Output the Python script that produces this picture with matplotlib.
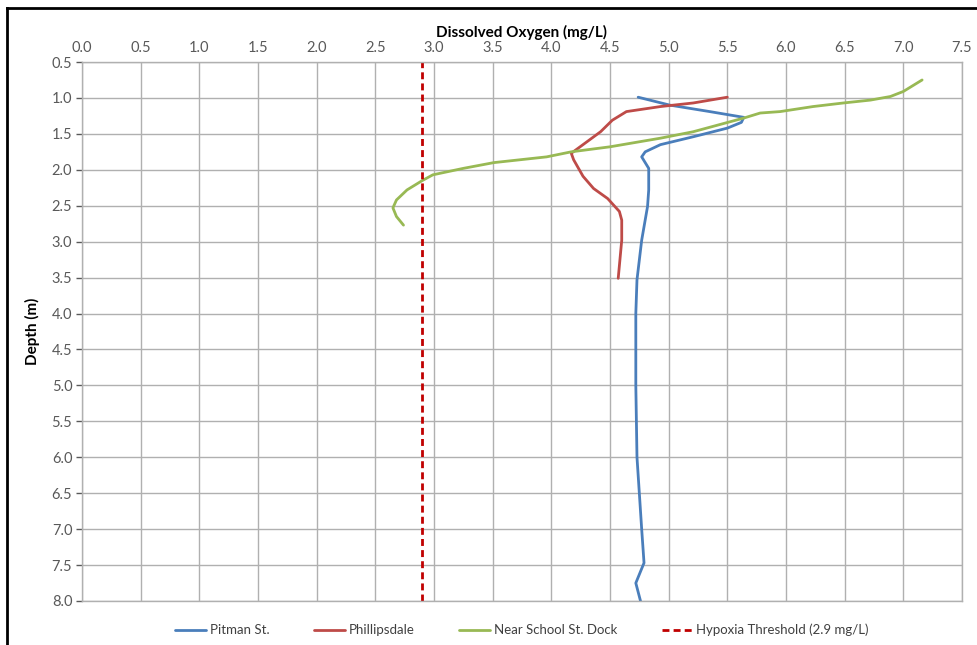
import matplotlib
matplotlib.use("Agg")
import matplotlib.pyplot as plt
from matplotlib.lines import Line2D

plt.rcParams['font.family'] = ['Lato', 'DejaVu Sans']

pitman_do = [4.74, 5.01, 5.35, 5.64, 5.62, 5.50, 5.21, 4.93, 4.80, 4.77, 4.83, 4.83, 4.82, 4.77,
             4.73, 4.72, 4.72, 4.72, 4.73, 4.75, 4.77, 4.79, 4.72, 4.76]
pitman_depth = [0.99, 1.10, 1.19, 1.27, 1.34, 1.42, 1.54, 1.65, 1.75, 1.82, 1.98, 2.28, 2.51, 2.98,
                3.53, 4.0, 4.5, 5.0, 6.0, 6.5, 7.0, 7.47, 7.75, 8.0]

phil_do = [5.50, 5.21, 4.93, 4.64, 4.52, 4.42, 4.27, 4.17, 4.19, 4.27, 4.36, 4.48, 4.58, 4.60, 4.60, 4.57]
phil_depth = [0.99, 1.07, 1.12, 1.19, 1.31, 1.47, 1.65, 1.77, 1.86, 2.09, 2.26, 2.40, 2.58, 2.70, 2.98, 3.51]

school_do = [7.16, 7.00, 6.89, 6.72, 6.49, 6.23, 5.95, 5.78, 5.64, 5.21, 4.93, 4.50, 4.17, 3.96,
             3.51, 3.25, 2.99, 2.90, 2.77, 2.68, 2.65, 2.68, 2.74]
school_depth = [0.75, 0.91, 0.98, 1.03, 1.07, 1.12, 1.19, 1.21, 1.28, 1.47, 1.56, 1.68, 1.75, 1.82,
                1.90, 1.98, 2.07, 2.15, 2.28, 2.42, 2.53, 2.65, 2.77]

hypoxia = 2.9

x_ticks = [0.0, 0.5, 1.0, 1.5, 2.0, 2.5, 3.0, 3.5, 4.0, 4.5, 5.0, 5.5, 6.0, 6.5, 7.0, 7.5]
y_ticks = [0.5, 1.0, 1.5, 2.0, 2.5, 3.0, 3.5, 4.0, 4.5, 5.0, 5.5, 6.0, 6.5, 7.0, 7.5, 8.0]

W, H = 978, 645
fig = plt.figure(figsize=(W / 100, H / 100), dpi=100)
ax = fig.add_axes([82 / W, 1 - 601 / H, (962 - 82) / W, (601 - 62) / H])

kw = dict(lw=2, solid_capstyle='round', solid_joinstyle='round')
ax.plot(pitman_do, pitman_depth, color='#4a7ebb', label='Pitman St.', **kw)
ax.plot(phil_do, phil_depth, color='#be4b48', label='Phillipsdale', **kw)
ax.plot(school_do, school_depth, color='#98b954', label='Near School St. Dock', **kw)
ax.axvline(hypoxia, color='#c00000', lw=2, ls=(0, (2.5, 1.5)), label='Hypoxia Threshold (2.9 mg/L)')

ax.set_xlim(0, 7.5)
ax.set_ylim(8.0, 0.5)
ax.set_xticks(x_ticks)
ax.set_yticks(y_ticks)
ax.set_xticklabels([f"{v:.1f}" for v in x_ticks])
ax.set_yticklabels([f"{v:.1f}" for v in y_ticks])
ax.xaxis.tick_top()
ax.xaxis.set_label_position('top')
ax.tick_params(axis='both', labelsize=10.5, colors='#595959', length=4, width=1, pad=3)
ax.tick_params(axis='x', length=0, pad=5)
ax.grid(True, color='#b0b0b0', lw=1)
ax.set_axisbelow(True)
for s in ax.spines.values():
    s.set_color('#b0b0b0')
    s.set_linewidth(1)

ax.set_xlabel('Dissolved Oxygen (mg/L)', fontsize=11, fontweight='bold', labelpad=3)
ax.set_ylabel('Depth (m)', fontsize=11, fontweight='bold', labelpad=8)

ax.legend(loc='upper center', bbox_to_anchor=(0.5, -0.02), ncol=4, frameon=False,
          fontsize=9.5, handlelength=2.3, columnspacing=3.4, handletextpad=0.3,
          labelcolor='#404040')

fig.add_artist(Line2D([7.5 / W, 7.5 / W], [0, 1 - 7.5 / H], transform=fig.transFigure, color='black', lw=2))
fig.add_artist(Line2D([7.5 / W, 1], [1 - 7.5 / H, 1 - 7.5 / H], transform=fig.transFigure, color='black', lw=2))

fig.savefig('out.png', dpi=100)
